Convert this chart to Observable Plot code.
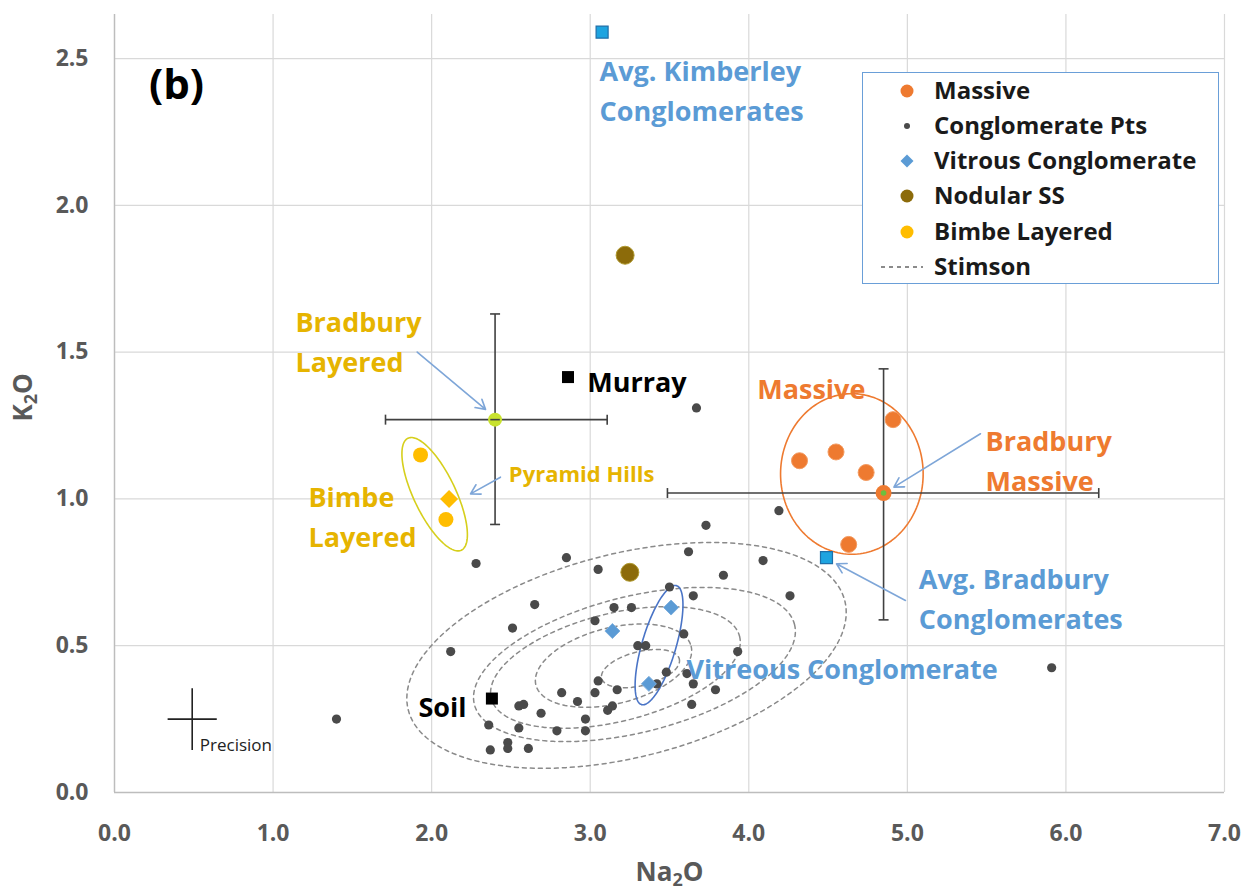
<!DOCTYPE html>
<html><head><meta charset="utf-8">
<script src="https://cdn.jsdelivr.net/npm/d3@7"></script>
<script src="https://cdn.jsdelivr.net/npm/@observablehq/plot@0.6"></script>
<style>
body{margin:0;background:#fff;}
#wrap{position:relative;width:1249px;height:894px;overflow:hidden;}
.legend{position:absolute;left:862px;top:72px;width:357px;height:212px;border:1.5px solid #6A9FD8;background:#fff;box-sizing:border-box;}
.legend .row{position:absolute;left:0;height:34px;line-height:34px;font-family:"Open Sans",sans-serif;font-weight:700;font-size:24px;color:#1a1a1a;white-space:nowrap;}
.legend svg{position:absolute;left:0;top:0;}
</style></head>
<body><div id="wrap"></div>
<script>
// ---------- data ----------
const xTicks = [0, 1, 2, 3, 4, 5, 6, 7];
const yTicks = [0, 0.5, 1.0, 1.5, 2.0, 2.5];

const conglomNa = [2.28,2.85,3.05,3.73,3.62,4.09,3.84,4.26,4.19,2.65,3.15,3.26,3.65,3.50,3.03,2.51,2.12,3.59,3.30,3.35,3.93,3.48,3.61,3.05,3.65,3.42,2.82,3.03,3.17,3.79,2.92,2.55,2.58,3.14,3.11,3.64,2.69,2.97,2.36,2.55,2.79,2.97,2.48,2.48,2.37,2.61,1.40,5.91,3.67];
const conglomK  = [0.78,0.80,0.76,0.91,0.82,0.79,0.74,0.67,0.96,0.64,0.63,0.63,0.67,0.70,0.585,0.56,0.48,0.54,0.50,0.50,0.48,0.41,0.405,0.38,0.37,0.37,0.34,0.34,0.35,0.35,0.31,0.295,0.30,0.295,0.28,0.30,0.27,0.25,0.23,0.22,0.21,0.21,0.17,0.15,0.145,0.15,0.25,0.425,1.31];

const massiveNa = [4.91, 4.32, 4.55, 4.74, 4.63];
const massiveK  = [1.27, 1.13, 1.16, 1.09, 0.845];

const vitrousNa = [3.51, 3.14, 3.37];
const vitrousK  = [0.63, 0.55, 0.37];

const nodularNa = [3.22, 3.25];
const nodularK  = [1.83, 0.75];

const bimbeNa = [1.93, 2.09];
const bimbeK  = [1.15, 0.93];
const pyramidNa = [2.11];
const pyramidK  = [1.00];

const bradburyLayered = {na: 2.40, k: 1.27, naLo: 1.709, naHi: 3.107, kLo: 0.913, kHi: 1.630};
const bradburyMassive = {na: 4.85, k: 1.02, naLo: 3.487, naHi: 6.207, kLo: 0.588, kHi: 1.443};

const avgNames = ["Avg. Kimberley", "Avg. Bradbury"];
const avgNa = [3.075, 4.49];
const avgK  = [2.59, 0.80];

const refNames = ["Murray", "Soil"];
const refNa = [2.86, 2.38];
const refK  = [1.415, 0.32];

const precision = {na: 0.49, k: 0.25, dNa: 0.155, dK: 0.105};

// Stimson density contours (centre in data units, semi-axes in px, tilt in degrees)
const stimsonCx = [3.229, 3.279, 3.159, 3.147, 3.317];
const stimsonCy = [0.467, 0.436, 0.426, 0.432, 0.422];
const stimsonA  = [225, 165, 128, 80, 40];
const stimsonB  = [102, 68, 54, 38, 17];
const stimsonTilt = -14;

// group outlines
const outlineNames = ["Massive", "Bimbe", "Vitreous"];
const outlineCx = [4.650, 2.019, 3.434];
const outlineCy = [1.085, 1.016, 0.502];
const outlineA  = [71.3, 62, 62];
const outlineB  = [80.3, 21, 17];
const outlineTilt = [0, 64.5, 106.4];

// arrows
const arrowX1 = [1.909, 2.434, 5.461, 4.988];
const arrowY1 = [1.500, 1.074, 1.222, 0.654];
const arrowX2 = [2.340, 2.245, 4.915, 4.553];
const arrowY2 = [1.305, 1.017, 1.040, 0.779];

// annotation labels
const blueLabels = ["Avg. Kimberley\nConglomerates", "Avg. Bradbury\nConglomerates", "Vitreous Conglomerate"];
const blueX = [3.059, 5.072, 3.607];
const blueY = [2.521, 0.790, 0.484];
const orangeLabels = ["Massive", "Bradbury\nMassive"];
const orangeX = [4.053, 5.493];
const orangeY = [1.437, 1.261];
const goldLabels = ["Bradbury\nLayered", "Bimbe\nLayered"];
const goldX = [1.141, 1.223];
const goldY = [1.666, 1.069];
const blackLabels = ["Murray", "Soil"];
const blackX = [2.981, 1.917];
const blackY = [1.461, 0.354];

const legendLabels = ["Massive", "Conglomerate Pts", "Vitrous Conglomerate", "Nodular SS", "Bimbe Layered", "Stimson"];

// ---------- layout ----------
const W = 1249, H = 894, ML = 114, MR = 25, MT = 14, MB = 102;
const xDomain = [0, 7], yDomain = [0, 2.65];
const kx = (W - ML - MR) / (xDomain[1] - xDomain[0]);
const ky = (H - MT - MB) / (yDomain[1] - yDomain[0]);

const C = {
  orange: "#EE7A30", grey: "#404040", blue: "#5B9BD5", olive: "#8C6B0A",
  gold: "#FFBD00", goldText: "#E6B400", ygreen: "#C8E22E", cyan: "#1EA4E0",
  arrow: "#7EA6D8", err: "#404040"
};

function ellipse(cx, cy, a, b, tiltDeg, id) {
  const p = tiltDeg * Math.PI / 180, out = [];
  for (let i = 0; i <= 160; i++) {
    const t = i / 160 * 2 * Math.PI;
    const ux = a * Math.cos(t), uy = b * Math.sin(t);
    const sx = ux * Math.cos(p) - uy * Math.sin(p);
    const sy = ux * Math.sin(p) + uy * Math.cos(p);
    out.push({x: cx + sx / kx, y: cy - sy / ky, id});
  }
  return out;
}
const stimson = stimsonCx.flatMap((cx, i) => ellipse(cx, stimsonCy[i], stimsonA[i], stimsonB[i], stimsonTilt, "s" + i));
const outlines = outlineNames.flatMap((n, i) => ellipse(outlineCx[i], outlineCy[i], outlineA[i], outlineB[i], outlineTilt[i], n));
const outlineColor = {Massive: C.orange, Bimbe: "#D6CF1C", Vitreous: "#4A74C6"};

const conglom = conglomNa.map((x, i) => ({x, y: conglomK[i]}));
const massive = massiveNa.map((x, i) => ({x, y: massiveK[i]}));
const vitrous = vitrousNa.map((x, i) => ({x, y: vitrousK[i]}));
const nodular = nodularNa.map((x, i) => ({x, y: nodularK[i]}));
const bimbe = bimbeNa.map((x, i) => ({x, y: bimbeK[i]}));
const pyramid = pyramidNa.map((x, i) => ({x, y: pyramidK[i]}));
const avgs = avgNames.map((n, i) => ({n, x: avgNa[i], y: avgK[i]}));
const refs = refNames.map((n, i) => ({n, x: refNa[i], y: refK[i]}));
const arrows = arrowX1.map((x1, i) => ({x1, y1: arrowY1[i], x2: arrowX2[i], y2: arrowY2[i]}));

const errs = [bradburyLayered, bradburyMassive];
const errH = errs.map(e => ({x1: e.naLo, x2: e.naHi, y1: e.k, y2: e.k}));
const errV = errs.map(e => ({x1: e.na, x2: e.na, y1: e.kLo, y2: e.kHi}));
const capsH = errs.flatMap(e => [{x: e.naLo, y: e.k}, {x: e.naHi, y: e.k}]);
const capsV = errs.flatMap(e => [{x: e.na, y: e.kLo}, {x: e.na, y: e.kHi}]);
const prec = [
  {x1: precision.na - precision.dNa, x2: precision.na + precision.dNa, y1: precision.k, y2: precision.k},
  {x1: precision.na, x2: precision.na, y1: precision.k - precision.dK, y2: precision.k + precision.dK}
];

// custom symbols
const capVert = {draw(ctx, size) { const r = Math.sqrt(size / Math.PI); ctx.moveTo(0, -r); ctx.lineTo(0, r); }};
const capHorz = {draw(ctx, size) { const r = Math.sqrt(size / Math.PI); ctx.moveTo(-r, 0); ctx.lineTo(r, 0); }};
const diamond = {draw(ctx, size) { const r = Math.sqrt(size / Math.PI); ctx.moveTo(0, -r); ctx.lineTo(r, 0); ctx.lineTo(0, r); ctx.lineTo(-r, 0); ctx.closePath(); }};
const square = {draw(ctx, size) { const r = Math.sqrt(size / Math.PI); ctx.rect(-r, -r, 2 * r, 2 * r); }};

const F = "'Open Sans', sans-serif";
const txt = (labels, xs, ys, fill, fontSize, extra = {}) =>
  Plot.text(labels.map((t, i) => ({t, x: xs[i], y: ys[i]})), {
    x: "x", y: "y", text: "t", fill, fontSize, fontWeight: 700, fontFamily: F,
    textAnchor: "start", lineAnchor: "top", lineHeight: 1.48, ...extra
  });

const plot = Plot.plot({
  width: W, height: H, marginLeft: ML, marginRight: MR, marginTop: MT, marginBottom: MB,
  x: {domain: xDomain}, y: {domain: yDomain},
  style: {fontFamily: F, background: "#fff", overflow: "visible"},
  marks: [
    Plot.gridX(xTicks, {stroke: "#D9D9D9", strokeOpacity: 1, strokeWidth: 1.2}),
    Plot.gridY(yTicks, {stroke: "#D9D9D9", strokeOpacity: 1, strokeWidth: 1.2}),
    Plot.ruleX([0], {stroke: "#BDBDBD", strokeWidth: 1.4}),
    Plot.ruleY([0], {stroke: "#BDBDBD", strokeWidth: 1.4}),
    Plot.axisX(xTicks, {tickSize: 0, tickPadding: 32, tickFormat: d3.format(".1f"), fontSize: 23, fontWeight: 700, fill: "#595959", label: null}),
    Plot.axisY(yTicks, {tickSize: 0, tickPadding: 26, tickFormat: d3.format(".1f"), fontSize: 23, fontWeight: 700, fill: "#595959", label: null}),
    Plot.text(["Na2O"], {text: d => d, frameAnchor: "bottom", lineAnchor: "top", dy: 70, fontSize: 26, fontWeight: 700, fill: "#595959"}),
    Plot.text(["K2O"], {text: d => d, frameAnchor: "left", rotate: -90, lineAnchor: "top", dx: -101, dy: 18, fontSize: 26, fontWeight: 700, fill: "#595959"}),
    // Stimson contours
    Plot.line(stimson, {x: "x", y: "y", z: "id", stroke: "#8A8A8A", strokeWidth: 1.5, strokeDasharray: "4,4", curve: "linear"}),
    // group outlines
    Plot.line(outlines, {x: "x", y: "y", z: "id", stroke: d => outlineColor[d.id], strokeWidth: 1.6, curve: "linear"}),
    // conglomerate points
    Plot.dot(conglom, {x: "x", y: "y", r: 4.6, fill: "#4a4a4a", stroke: "none"}),
    // error bars
    Plot.link(errH, {x1: "x1", x2: "x2", y1: "y1", y2: "y2", stroke: C.err, strokeWidth: 1.6}),
    Plot.link(errV, {x1: "x1", x2: "x2", y1: "y1", y2: "y2", stroke: C.err, strokeWidth: 1.6}),
    Plot.dot(capsH, {x: "x", y: "y", symbol: capVert, r: 5, stroke: C.err, strokeWidth: 1.6, fill: "none"}),
    Plot.dot(capsV, {x: "x", y: "y", symbol: capHorz, r: 5, stroke: C.err, strokeWidth: 1.6, fill: "none"}),
    Plot.link(prec, {x1: "x1", x2: "x2", y1: "y1", y2: "y2", stroke: "#222", strokeWidth: 1.6}),
    // markers
    Plot.dot(nodular, {x: "x", y: "y", r: 9, fill: C.olive, stroke: "#b09a30", strokeWidth: 1}),
    Plot.dot(vitrous, {x: "x", y: "y", symbol: diamond, r: 7.5, fill: C.blue, stroke: "#7fb0de", strokeWidth: 1}),
    Plot.dot(massive, {x: "x", y: "y", r: 8, fill: C.orange, stroke: "#f39a60", strokeWidth: 1}),
    Plot.dot([bradburyMassive], {x: "na", y: "k", r: 8, fill: C.orange}),
    Plot.dot([bradburyMassive], {x: "na", y: "k", r: 2.8, fill: "#6CBF3E"}),
    Plot.dot(bimbe, {x: "x", y: "y", r: 7.5, fill: C.gold}),
    Plot.dot(pyramid, {x: "x", y: "y", symbol: diamond, r: 9, fill: C.gold}),
    Plot.dot([bradburyLayered], {x: "na", y: "k", r: 7, fill: C.ygreen}),
    Plot.link([bradburyLayered], {x1: d => d.na - 0.03, x2: d => d.na + 0.03, y1: "k", y2: "k", stroke: C.err, strokeWidth: 1.6}),
    Plot.dot(avgs, {x: "x", y: "y", symbol: square, r: 6, fill: C.cyan, stroke: "#1F6FA8", strokeWidth: 1.2}),
    Plot.dot(refs, {x: "x", y: "y", symbol: square, r: 6, fill: "#000"}),
    // arrows
    Plot.arrow(arrows, {x1: "x1", y1: "y1", x2: "x2", y2: "y2", stroke: C.arrow, strokeWidth: 1.6, headLength: 10}),
    // labels
    txt(blueLabels, blueX, blueY, C.blue, 27),
    txt(orangeLabels, orangeX, orangeY, C.orange, 27),
    txt(goldLabels, goldX, goldY, C.goldText, 27),
    txt(["Pyramid Hills"], [2.487], [1.138], C.goldText, 22),
    txt(blackLabels, blackX, blackY, "#000", 27),
    txt(["Precision"], [0.538], [0.202], "#222", 17, {fontWeight: 400}),
    Plot.text(["(b)"], {x: () => 0.391, y: () => 2.408, text: d => d, fontSize: 42, fontWeight: 700, fill: "#000", textAnchor: "middle", lineAnchor: "middle", fontFamily: F})
  ]
});

// subscripts in axis titles
d3.select(plot).selectAll("text").each(function () {
  const s = this.textContent;
  if (s === "Na2O" || s === "K2O") {
    const t = d3.select(this);
    const head = s.slice(0, s.indexOf("2"));
    t.text(null);
    t.append("tspan").text(head);
    t.append("tspan").attr("dy", "5px").attr("font-size", "18px").text("2");
    t.append("tspan").attr("dy", "-5px").text("O");
  }
});

const wrap = document.getElementById("wrap");
wrap.appendChild(plot);

// legend
const leg = document.createElement("div");
leg.className = "legend";
wrap.appendChild(leg);
const rowCY = [18, 53, 88, 123, 159, 194];
const lsvg = d3.create("svg").attr("width", 357).attr("height", 212);
const mx = 44;
lsvg.append("circle").attr("cx", mx).attr("cy", rowCY[0]).attr("r", 6.5).attr("fill", C.orange);
lsvg.append("circle").attr("cx", mx).attr("cy", rowCY[1]).attr("r", 3).attr("fill", "#4a4a4a");
lsvg.append("path").attr("d", `M${mx},${rowCY[2]-6.5}L${mx+6.5},${rowCY[2]}L${mx},${rowCY[2]+6.5}L${mx-6.5},${rowCY[2]}Z`).attr("fill", C.blue);
lsvg.append("circle").attr("cx", mx).attr("cy", rowCY[3]).attr("r", 6.5).attr("fill", C.olive);
lsvg.append("circle").attr("cx", mx).attr("cy", rowCY[4]).attr("r", 6.5).attr("fill", C.gold);
lsvg.append("line").attr("x1", 18).attr("x2", 60).attr("y1", rowCY[5]).attr("y2", rowCY[5]).attr("stroke", "#666").attr("stroke-width", 1.3).attr("stroke-dasharray", "4,4");
leg.appendChild(lsvg.node());
legendLabels.forEach((l, i) => {
  const r = document.createElement("div");
  r.className = "row";
  r.style.left = "71px";
  r.style.top = (rowCY[i] - 18) + "px";
  r.textContent = l;
  leg.appendChild(r);
});
</script>
</body></html>
